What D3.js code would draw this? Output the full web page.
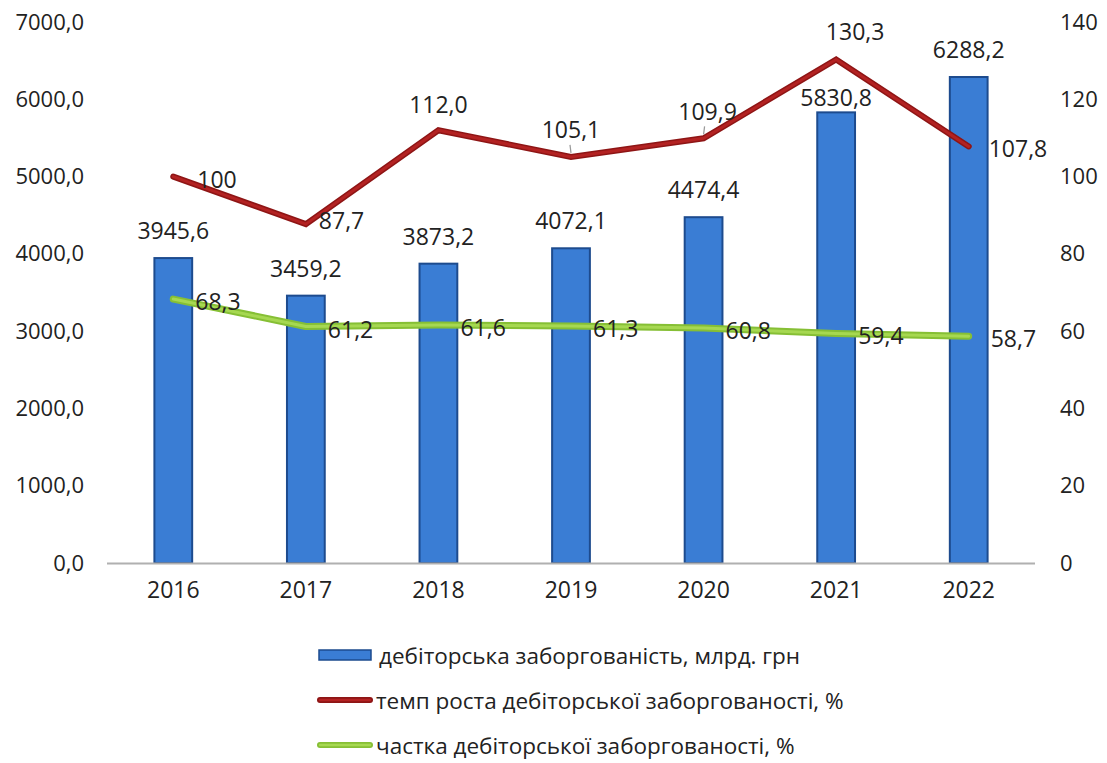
<!DOCTYPE html>
<html><head><meta charset="utf-8">
<script src="https://cdn.jsdelivr.net/npm/d3@7"></script>
<style>
html,body{margin:0;padding:0;background:#fff;}
svg{display:block;}
text{font-family:"Open Sans","Noto Sans",sans-serif;fill:#222;}
</style></head>
<body>
<svg id="chart" width="1107" height="763"></svg>
<script>
const years = ["2016","2017","2018","2019","2020","2021","2022"];
const debt = [3945.6, 3459.2, 3873.2, 4072.1, 4474.4, 5830.8, 6288.2];
const growth = [100, 87.7, 112.0, 105.1, 109.9, 130.3, 107.8];
const share = [68.3, 61.2, 61.6, 61.3, 60.8, 59.4, 58.7];
const leftTicks = [0,1000,2000,3000,4000,5000,6000,7000];
const rightTicks = [0,20,40,60,80,100,120,140];
const legendLabels = ["дебіторська заборгованість, млрд. грн","темп роста дебіторської заборгованості, %","частка дебіторської заборгованості, %"];

// label placement (style, not data)
const growthLabelPos = [
  {dx:24,dy:2,anchor:"start"},
  {dx:13,dy:-4,anchor:"start"},
  {dx:0,dy:-26,anchor:"middle"},
  {dx:0,dy:-28,anchor:"middle",leader:true},
  {dx:4,dy:-27,anchor:"middle",leader:true},
  {dx:19,dy:-28,anchor:"middle"},
  {dx:20,dy:2,anchor:"start"}
];
const barLabelOffset = [28,28,28,28,28,15,28];
const FS = 23;

const fmt = v => d3.format(".1f")(v).replace(".", ",");
const fmtG = v => (v===100) ? "100" : fmt(v);

const svg = d3.select("#chart");
const x = d3.scaleBand().domain(years).range([107,1035]).paddingInner(0.7).paddingOuter(0.35);
const yL = d3.scaleLinear().domain([0,7000]).range([563,22]);
const yR = d3.scaleLinear().domain([0,140]).range([563,22]);
const cx = d => x(d) + x.bandwidth()/2;

// axes labels
const axL = d3.axisLeft(yL).tickValues(leftTicks).tickSize(0).tickPadding(0).tickFormat(fmt);
const gL = svg.append("g").attr("transform","translate(84,0)").call(axL);
gL.select(".domain").remove();
gL.selectAll("text").attr("font-size",22).style("font-family","'Open Sans'").attr("fill","#222");

const axR = d3.axisRight(yR).tickValues(rightTicks).tickSize(0).tickPadding(0).tickFormat(d3.format("d"));
const gR = svg.append("g").attr("transform","translate(1060,0)").call(axR);
gR.select(".domain").remove();
gR.selectAll("text").attr("font-size",22).style("font-family","'Open Sans'").attr("fill","#222");

// bars
svg.append("g").selectAll("rect").data(years).join("rect")
  .attr("x", d => x(d)+1).attr("width", x.bandwidth()-2)
  .attr("y", (d,i) => yL(debt[i])).attr("height", (d,i) => yL(0)-yL(debt[i]))
  .attr("fill","#3a7dd4").attr("stroke","#1d4b8e").attr("stroke-width",2);

// baseline
svg.append("line").attr("x1",107).attr("x2",1035).attr("y1",yL(0)+0.5).attr("y2",yL(0)+0.5)
  .attr("stroke","#b0b0b0").attr("stroke-width",2);

// x axis
const axX = d3.axisBottom(x).tickSize(0).tickPadding(0);
const gX = svg.append("g").attr("transform","translate(0,582)").call(axX);
gX.select(".domain").remove();
gX.selectAll("text").attr("font-size",FS).style("font-family","'Open Sans'").attr("fill","#222");

// lines
const lineG = d3.line().x((d,i)=>cx(years[i])).y(d=>yR(d));
svg.append("path").datum(share).attr("d",lineG).attr("fill","none")
  .attr("stroke","#86bf35").attr("stroke-width",7).attr("stroke-linecap","round").attr("stroke-linejoin","round");
svg.append("path").datum(share).attr("d",lineG).attr("fill","none")
  .attr("stroke","#a6d851").attr("stroke-width",3).attr("stroke-linecap","round").attr("stroke-linejoin","round");
svg.append("path").datum(growth).attr("d",lineG).attr("fill","none")
  .attr("stroke","#8e1515").attr("stroke-width",6).attr("stroke-linecap","round").attr("stroke-linejoin","miter");
svg.append("path").datum(growth).attr("d",lineG).attr("fill","none")
  .attr("stroke","#b32222").attr("stroke-width",3).attr("stroke-linecap","round").attr("stroke-linejoin","miter");

// bar labels
svg.append("g").selectAll("text").data(years).join("text")
  .attr("x", d => cx(d)).attr("y", (d,i) => yL(debt[i]) - barLabelOffset[i])
  .attr("text-anchor","middle").attr("dominant-baseline","central").attr("font-size",FS)
  .text((d,i) => fmt(debt[i]));

// growth labels
growth.forEach((v,i) => {
  const p = growthLabelPos[i];
  const px = cx(years[i]), py = yR(v);
  if (p.leader) {
    svg.append("line").attr("x1",px+p.dx*0.5-1).attr("y1",py-12).attr("x2",px).attr("y2",py-4)
      .attr("stroke","#999").attr("stroke-width",1.2);
  }
  svg.append("text").attr("x",px+p.dx).attr("y",py+p.dy)
    .attr("text-anchor",p.anchor).attr("dominant-baseline","central").attr("font-size",FS)
    .text(fmtG(v));
});

// share labels
svg.append("g").selectAll("text").data(share).join("text")
  .attr("x",(d,i)=>cx(years[i])+22).attr("y",d=>yR(d)+2)
  .attr("dominant-baseline","central").attr("font-size",FS)
  .text(d=>fmt(d));

// legend
const lg = svg.append("g");
const rowY = [655,700,745];
lg.append("rect").attr("x",319).attr("y",rowY[0]-5).attr("width",52).attr("height",10)
  .attr("fill","#3a7dd4").attr("stroke","#1d4b8e").attr("stroke-width",1.5);
lg.append("line").attr("x1",320).attr("x2",370).attr("y1",rowY[1]).attr("y2",rowY[1])
  .attr("stroke","#8e1515").attr("stroke-width",6).attr("stroke-linecap","round");
lg.append("line").attr("x1",320).attr("x2",370).attr("y1",rowY[1]).attr("y2",rowY[1])
  .attr("stroke","#b32222").attr("stroke-width",2.5).attr("stroke-linecap","round");
lg.append("line").attr("x1",320).attr("x2",370).attr("y1",rowY[2]).attr("y2",rowY[2])
  .attr("stroke","#86bf35").attr("stroke-width",6).attr("stroke-linecap","round");
lg.append("line").attr("x1",320).attr("x2",370).attr("y1",rowY[2]).attr("y2",rowY[2])
  .attr("stroke","#a6d851").attr("stroke-width",2.5).attr("stroke-linecap","round");
lg.selectAll("text.lt").data(legendLabels).join("text").attr("class","lt")
  .attr("x",(d,i)=> i===0?379:376).attr("y",(d,i)=>rowY[i]).attr("dominant-baseline","central")
  .attr("font-size",22.5).text(d=>d);
</script>
</body></html>
